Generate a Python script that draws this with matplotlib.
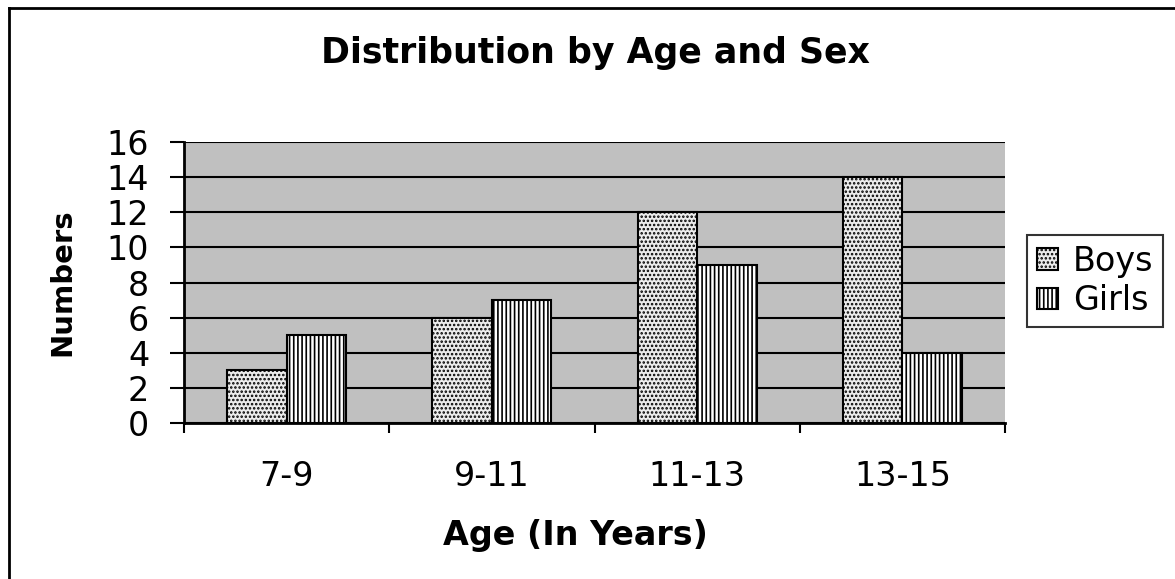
import matplotlib
matplotlib.use("Agg")
import matplotlib.pyplot as plt
import numpy as np

plt.rcParams['font.family'] = ['DejaVu Sans']
plt.rcParams['hatch.linewidth'] = 1.2

ages = ["7-9", "9-11", "11-13", "13-15"]
boys = [3, 6, 12, 14]
girls = [5, 7, 9, 4]

fig = plt.figure(figsize=(11.75, 5.79), dpi=100)
ax = fig.add_axes([184/1175, 1-423/579, (1005-184)/1175, (423-142)/579])

x = np.arange(len(ages))
w = 0.29
ax.bar(x - w/2, boys, w, facecolor='#ececec', edgecolor='black', hatch='....',
       linewidth=1.5, label='Boys', zorder=3)
ax.bar(x + w/2, girls, w, facecolor='white', edgecolor='black', hatch='||||',
       linewidth=1.5, label='Girls', zorder=3)

ax.set_facecolor('#c0c0c0')
ax.set_xlim(-0.5, 3.5)
ax.set_ylim(0, 16)
ax.set_yticks(range(0, 17, 2))
ax.yaxis.grid(True, color='black', linewidth=1.5, zorder=1)
ax.set_axisbelow(True)
ax.set_xticks(np.arange(-0.5, 4, 1))
ax.set_xticklabels([])
ax.set_xticks(x, minor=True)
ax.set_xticklabels(ages, minor=True)
ax.tick_params(axis='x', which='minor', length=0, labelsize=24, pad=27)
ax.tick_params(axis='x', which='major', length=7, width=1.5)
ax.tick_params(axis='y', length=10, width=1.5, labelsize=24, pad=15)
for s in ['top', 'right']:
    ax.spines[s].set_visible(False)
for s in ['left', 'bottom']:
    ax.spines[s].set_linewidth(2)

ax.set_xlabel("Age (In Years)", fontsize=24, fontweight='bold')
# xlabel sits a little left of the plot centre in the original
ax.xaxis.set_label_coords((575-184)/821, (423-519)/281)
ax.set_ylabel("Numbers", fontsize=21, fontweight='bold', labelpad=22)
fig.text(595/1175, 1-53/579, "Distribution by Age and Sex", fontsize=25,
         fontweight='bold', ha='center', va='center')

leg = ax.legend(loc='center left', bbox_to_anchor=(1027/1175, 1-281/579),
                bbox_transform=fig.transFigure, fontsize=24, frameon=True,
                fancybox=False, edgecolor='black', handlelength=0.62,
                handleheight=0.62, handletextpad=0.45, borderpad=0.3,
                labelspacing=0.2, borderaxespad=0)
leg.get_frame().set_linewidth(1.5)

# outer chart border (left and top visible)
fig.add_artist(plt.Line2D([9/1175, 9/1175], [0, 1-8/579], color='black',
                          linewidth=2, transform=fig.transFigure))
fig.add_artist(plt.Line2D([9/1175, 1], [1-8/579, 1-8/579], color='black',
                          linewidth=2, transform=fig.transFigure))

fig.savefig("out.png", dpi=100)
